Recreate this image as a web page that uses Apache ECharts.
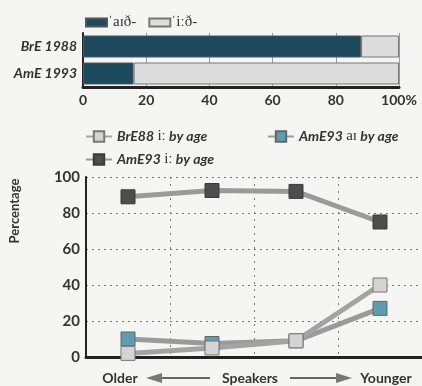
<!DOCTYPE html>
<html>
<head>
<meta charset="UTF-8">
<title>aɪð / iːð</title>
<script src="https://cdn.jsdelivr.net/npm/echarts@6/dist/echarts.min.js"></script>
<style>
  body { margin: 0; background: #f5f5f3; }
</style>
</head>
<body>
	<div id="main" style="width: 422px;height:386px;"></div>
	<script type="text/javascript">
		// top bar chart
		var barCats = ['BrE 1988', 'AmE 1993'];
		var aidh = [88, 16];
		var iidh = [12, 84];

		// bottom line chart: four age groups, older -> younger
		var ageGroups = ['g1', 'g2', 'g3', 'g4'];
		var brE88i = [2, 5, 9, 40];
		var amE93ai = [10, 7.5, 9, 27];
		var amE93i = [89, 92.5, 92, 75];

		var sans = 'Lato';
		var dark = '#333';

		function legendFmt(name) {
			var p = name.split(' ');
			return '{a|' + p[0] + '} {b|' + p[1] + '} {a|' + p.slice(2).join(' ') + '}';
		}
		var legRich = {
			a: { fontFamily: sans, fontStyle: 'italic', fontWeight: 'bold', fontSize: 14, color: dark },
			b: { fontFamily: 'Liberation Serif', fontSize: 15, color: dark }
		};

		var myChart = echarts.init(document.getElementById('main'));

		var option = {
			backgroundColor: '#f5f5f3',
			animation: false,
			legend: [
				{
					left: 80, top: 10, itemWidth: 21, itemHeight: 8, itemGap: 12, icon: 'rect',
					data: ['\u02C8a\u026A\u00F0-', '\u02C8i\u02D0\u00F0-'],
					textStyle: { fontFamily: 'Liberation Serif', fontSize: 15, color: dark, padding: [0, 0, 0, -4] }
				},
				{
					left: 80, top: 124, itemWidth: 26, itemHeight: 13,
					data: ['BrE88 i\u02D0 by age'], formatter: legendFmt, textStyle: { rich: legRich }
				},
				{
					left: 262, top: 124, itemWidth: 26, itemHeight: 13,
					data: ['AmE93 a\u026A by age'], formatter: legendFmt, textStyle: { rich: legRich }
				},
				{
					left: 80, top: 147, itemWidth: 26, itemHeight: 13,
					data: ['AmE93 i\u02D0 by age'], formatter: legendFmt, textStyle: { rich: legRich }
				}
			],
			grid: [
				{ left: 83, top: 33, width: 316, height: 54 },
				{ left: 86, top: 177, width: 340, height: 180 }
			],
			xAxis: [
				{
					gridIndex: 0, type: 'value', min: 0, max: 100, interval: 20,
					axisLine: { show: true, lineStyle: { color: '#222', width: 3 } },
					axisTick: { show: false },
					splitLine: { show: true, lineStyle: { color: '#9a9a9a', width: 1 } },
					axisLabel: {
						fontFamily: sans, fontWeight: 'bold', fontSize: 14, color: dark, margin: 6,
						formatter: function (v) { return v === 100 ? '100%' : v; }
					}
				},
				{
					gridIndex: 1, type: 'category', data: ageGroups, boundaryGap: true,
					axisLine: { lineStyle: { color: '#222', width: 3 } },
					axisTick: { show: false },
					axisLabel: { show: false },
					splitLine: { show: true, lineStyle: { color: '#777', type: [2, 5], width: 1 } }
				}
			],
			yAxis: [
				{
					gridIndex: 0, type: 'category', data: barCats, inverse: true,
					axisLine: { lineStyle: { color: '#222', width: 2 } },
					axisTick: { show: false },
					axisLabel: { fontFamily: sans, fontStyle: 'italic', fontWeight: 'bold', fontSize: 14, color: dark, margin: 6 }
				},
				{
					gridIndex: 1, type: 'value', min: 0, max: 100, interval: 20,
					axisLine: { show: true, lineStyle: { color: '#222', width: 2 } },
					axisTick: { show: false },
					splitLine: { lineStyle: { color: '#777', type: [2, 4], width: 1 } },
					axisLabel: { fontFamily: sans, fontWeight: 'bold', fontSize: 15, color: dark, margin: 6 }
				}
			],
			series: [
				{
					name: '\u02C8a\u026A\u00F0-', type: 'bar', stack: 'b', xAxisIndex: 0, yAxisIndex: 0,
					data: aidh, barWidth: 22,
					itemStyle: { color: '#1e4a60', borderColor: '#555', borderWidth: 1 }
				},
				{
					name: '\u02C8i\u02D0\u00F0-', type: 'bar', stack: 'b', xAxisIndex: 0, yAxisIndex: 0,
					data: iidh, barWidth: 22,
					itemStyle: { color: '#dcdcdc', borderColor: '#777', borderWidth: 1 }
				},
				{
					name: 'AmE93 a\u026A by age', type: 'line', xAxisIndex: 1, yAxisIndex: 1,
					data: amE93ai, symbol: 'rect', symbolSize: 14,
					lineStyle: { color: '#9a9a9a', width: 5 },
					itemStyle: { color: '#5e9db0', borderColor: '#666', borderWidth: 1 }
				},
				{
					name: 'BrE88 i\u02D0 by age', type: 'line', xAxisIndex: 1, yAxisIndex: 1,
					data: brE88i, symbol: 'rect', symbolSize: 14,
					lineStyle: { color: '#a3a3a3', width: 5 },
					itemStyle: { color: '#d4d4d4', borderColor: '#777', borderWidth: 1 }
				},
				{
					name: 'AmE93 i\u02D0 by age', type: 'line', xAxisIndex: 1, yAxisIndex: 1,
					data: amE93i, symbol: 'rect', symbolSize: 14,
					lineStyle: { color: '#9a9a9a', width: 5 },
					itemStyle: { color: '#4d4d4d', borderColor: '#3a3a3a', borderWidth: 1 }
				}
			],
			graphic: [
				{
					type: 'text', x: 15, y: 211, rotation: Math.PI / 2, originX: 0, originY: 0,
					style: {
						text: 'Percentage', fontFamily: sans, fontWeight: 'bold', fontSize: 13,
						fill: dark, align: 'center', verticalAlign: 'middle'
					}
				},
				{ type: 'text', x: 120, y: 378, style: { text: 'Older', fontFamily: sans, fontWeight: 'bold', fontSize: 14, fill: dark, align: 'center', verticalAlign: 'middle' } },
				{ type: 'text', x: 250, y: 378, style: { text: 'Speakers', fontFamily: sans, fontWeight: 'bold', fontSize: 14, fill: dark, align: 'center', verticalAlign: 'middle' } },
				{ type: 'text', x: 386, y: 378, style: { text: 'Younger', fontFamily: sans, fontWeight: 'bold', fontSize: 14, fill: dark, align: 'center', verticalAlign: 'middle' } },
				{ type: 'line', shape: { x1: 158, y1: 378, x2: 210, y2: 378 }, style: { stroke: '#666', lineWidth: 2 } },
				{ type: 'polygon', shape: { points: [[146, 378], [162, 373], [162, 383]] }, style: { fill: '#777' } },
				{ type: 'line', shape: { x1: 290, y1: 378, x2: 340, y2: 378 }, style: { stroke: '#666', lineWidth: 2 } },
				{ type: 'polygon', shape: { points: [[352, 378], [336, 373], [336, 383]] }, style: { fill: '#777' } }
			]
		};

		myChart.setOption(option);
	</script>
</body>
</html>
